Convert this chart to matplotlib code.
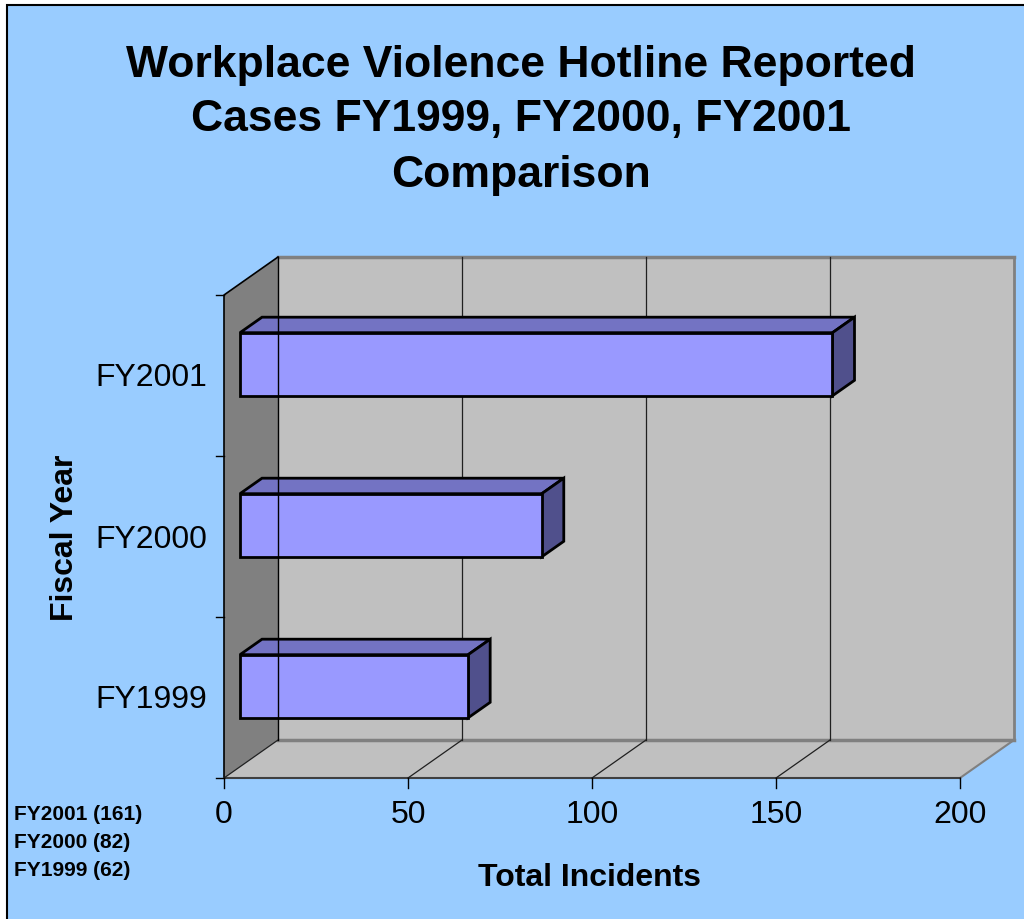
import matplotlib

matplotlib.use("Agg")
import matplotlib.pyplot as plt
from matplotlib.patches import Polygon, Rectangle

# Hotline data
years = ["FY1999", "FY2000", "FY2001"]
cases = [62, 82, 161]
value_ticks = [0, 50, 100, 150, 200]
title_lines = ["Workplace Violence Hotline Reported",
               "Cases FY1999, FY2000, FY2001",
               "Comparison"]

W, H = 1024, 919
fig = plt.figure(figsize=(W / 100, H / 100), dpi=100, facecolor="white")

# blue chart area with black border on left/top
fig.patches.append(Rectangle((7 / W, -0.05), 1.1, 1 - 5 / H + 0.05,
                             transform=fig.transFigure, facecolor="#99CCFF",
                             edgecolor="black", linewidth=1.5, zorder=-10))

# axes spans whole figure; data units: x = incidents, y = category slots
px_x = 3.68       # pixels per incident
px_y = 161.0      # pixels per category
x0_px, y0_px = 224, 778
ax = fig.add_axes([0, 0, 1, 1])
ax.set_xlim(-x0_px / px_x, (W - x0_px) / px_x)
ax.set_ylim((y0_px - H) / px_y, y0_px / px_y)
ax.axis("off")

DX = 54 / px_x    # depth offset
DY = 38 / px_y
vmax = value_ticks[-1]
ncat = len(years)

# walls and floor
ax.add_patch(Polygon([(DX, DY), (vmax + DX, DY), (vmax + DX, ncat + DY), (DX, ncat + DY)],
                     facecolor="#C0C0C0", edgecolor="none", zorder=1))
ax.add_patch(Polygon([(0, 0), (DX, DY), (DX, ncat + DY), (0, ncat)],
                     facecolor="#808080", edgecolor="none", zorder=1))
ax.add_patch(Polygon([(0, 0), (vmax, 0), (vmax + DX, DY), (DX, DY)],
                     facecolor="#C0C0C0", edgecolor="none", zorder=1))

# wall edges
ax.plot([DX, vmax + DX], [ncat + DY, ncat + DY], color="#808080", lw=2.5, zorder=2)
ax.plot([DX, vmax + DX], [DY, DY], color="#808080", lw=2.5, zorder=2)
ax.plot([vmax + DX, vmax + DX], [DY, ncat + DY], color="#808080", lw=2, zorder=2)
ax.plot([vmax, vmax + DX], [0, DY], color="#808080", lw=1.5, zorder=2)
ax.plot([0, 0, DX], [0, ncat, ncat + DY], color="black", lw=1.2, zorder=2)
ax.plot([0, vmax], [0, 0], color="#404040", lw=1.5, zorder=2)

# gridlines on back wall and floor
for v in value_ticks[1:-1]:
    ax.plot([v + DX, v + DX], [DY, ncat + DY], color="#202020", lw=0.9, zorder=2)
for v in value_ticks[:-1]:
    ax.plot([v, v + DX], [0, DY], color="#202020", lw=0.9, zorder=2)

# ticks
for v in value_ticks:
    ax.plot([v, v], [0, -10 / px_y], color="black", lw=1, zorder=2)
    ax.text(v, -37 / px_y, str(v), ha="center", va="center",
            fontsize=23, family="Liberation Sans")
for k in range(ncat + 1):
    ax.plot([-8 / px_x, 0], [k, k], color="black", lw=1, zorder=2)

# 3D bars
f0, f1 = 0.296, 0.704
h = 0.196
for i, (name, v) in enumerate(zip(years, cases)):
    yc = i + 0.5
    ax0, ay0 = f0 * DX, f0 * DY
    ax1, ay1 = f1 * DX, f1 * DY
    top = [(ax0, yc + h + ay0), (v + ax0, yc + h + ay0),
           (v + ax1, yc + h + ay1), (ax1, yc + h + ay1)]
    side = [(v + ax0, yc - h + ay0), (v + ax1, yc - h + ay1),
            (v + ax1, yc + h + ay1), (v + ax0, yc + h + ay0)]
    ax.add_patch(Polygon(top, facecolor="#7373C3", edgecolor="black", lw=2, zorder=3, joinstyle="miter"))
    ax.add_patch(Polygon(side, facecolor="#50508C", edgecolor="black", lw=2, zorder=3, joinstyle="miter"))
    ax.add_patch(Rectangle((ax0, yc - h + ay0), v, 2 * h, facecolor="#9999FF",
                           edgecolor="black", lw=2, zorder=3, joinstyle="miter"))
    ax.text(-17 / px_x, yc - 3 / px_y, name, ha="right", va="center",
            fontsize=23, family="Liberation Sans")

# back-left corner edge
ax.plot([DX, DX], [DY, ncat + DY], color="black", lw=1, zorder=4)

# titles and labels
for j, line in enumerate(title_lines):
    fig.text(521 / W, 1 - (65 + 55 * j) / H, line, ha="center", va="center",
             fontsize=32, fontweight="bold", family="Liberation Sans")
fig.text(65 / W, 1 - 538 / H, "Fiscal Year", rotation=90, ha="center", va="center",
         fontsize=23, fontweight="bold", family="Liberation Sans")
fig.text(590 / W, 1 - 878 / H, "Total Incidents", ha="center", va="center",
         fontsize=23, fontweight="bold", family="Liberation Sans")

# value summary at lower left
for j, (name, v) in enumerate(zip(years[::-1], cases[::-1])):
    fig.text(14 / W, 1 - (815 + 28 * j) / H, f"{name} ({v})", ha="left", va="center",
             fontsize=15, fontweight="bold", family="Liberation Sans")

fig.savefig("out.png", dpi=100)
